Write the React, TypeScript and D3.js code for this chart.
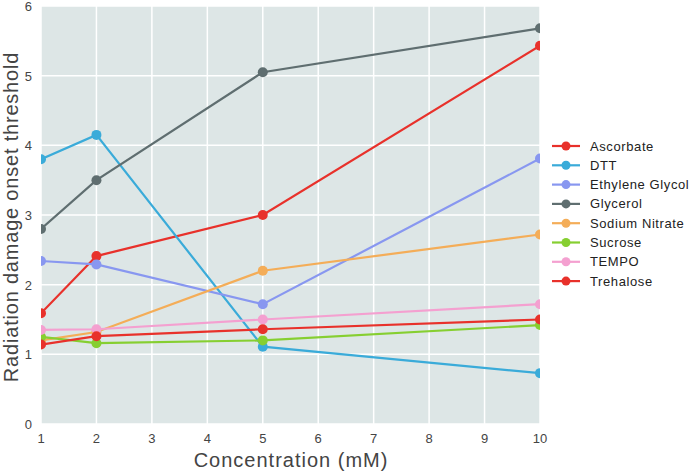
import React from "react";
import * as d3 from "d3";

const concentrations = [1, 2, 5, 10];
const seriesNames = ["Ascorbate", "DTT", "Ethylene Glycol", "Glycerol", "Sodium Nitrate", "Sucrose", "TEMPO", "Trehalose"];
const seriesColors = ["#e8312b", "#3aabd9", "#8897f0", "#5f6e70", "#f4ad58", "#86cf31", "#f4a0d0", "#e8312b"];
const ascorbate = [1.59, 2.41, 3.0, 5.43];
const dtt = [3.8, 4.15, 1.11, 0.73];
const ethyleneGlycol = [2.34, 2.29, 1.72, 3.81];
const glycerol = [2.8, 3.5, 5.05, 5.68];
const sodiumNitrate = [1.2, 1.32, 2.2, 2.72];
const sucrose = [1.25, 1.16, 1.2, 1.42];
const tempo = [1.35, 1.36, 1.5, 1.72];
const trehalose = [1.14, 1.26, 1.36, 1.5];
const seriesValues = [ascorbate, dtt, ethyleneGlycol, glycerol, sodiumNitrate, sucrose, tempo, trehalose];
const xTicks = [1, 2, 3, 4, 5, 6, 7, 8, 9, 10];
const yTicks = [0, 1, 2, 3, 4, 5, 6];

export default function App() {
  const W = 693, H = 473;
  const left = 41, right = 540, top = 6, bottom = 424;
  const x = d3.scaleLinear().domain([1, 10]).range([left, right]);
  const y = d3.scaleLinear().domain([0, 6]).range([bottom, top]);
  const line = d3.line<[number, number]>().x(d => x(d[0])).y(d => y(d[1]));
  const font = "'Liberation Sans', Arial, Helvetica, sans-serif";
  return (
    <svg width={W} height={H} style={{ position: "absolute", left: 0, top: 0 }} fontFamily={font}>
      <defs>
        <clipPath id="plotclip">
          <rect x={left} y={top} width={right - left} height={bottom - top} />
        </clipPath>
      </defs>
      <rect x={0} y={0} width={W} height={H} fill="#ffffff" />
      <rect x={left} y={top} width={right - left} height={bottom - top} fill="#dde6e6" />
      {xTicks.map(t => (
        <line key={"gx" + t} x1={x(t)} x2={x(t)} y1={top} y2={bottom} stroke="#ffffff" strokeWidth={1.5} />
      ))}
      {yTicks.map(t => (
        <line key={"gy" + t} x1={left} x2={right} y1={y(t)} y2={y(t)} stroke="#ffffff" strokeWidth={1.5} />
      ))}
      <g clipPath="url(#plotclip)">
        {seriesValues.map((vals, i) => {
          const pts = concentrations.map((c, j) => [c, vals[j]] as [number, number]);
          return (
            <g key={seriesNames[i]}>
              <path d={line(pts) || ""} fill="none" stroke={seriesColors[i]} strokeWidth={2.2} />
              {pts.map((p, j) => (
                <circle key={j} cx={x(p[0])} cy={y(p[1])} r={5} fill={seriesColors[i]} />
              ))}
            </g>
          );
        })}
      </g>
      {xTicks.map(t => (
        <text key={"tx" + t} x={x(t)} y={443} textAnchor="middle" fontSize={13} fill="#444">{t}</text>
      ))}
      {yTicks.map(t => (
        <text key={"ty" + t} x={32} y={y(t) + 5} textAnchor="end" fontSize={13} fill="#444">{t}</text>
      ))}
      <text x={291} y={467} textAnchor="middle" fontSize={20} fill="#444" letterSpacing={1}>Concentration (mM)</text>
      <text transform={`translate(18, ${(top + bottom) / 2 + 2}) rotate(-90)`} textAnchor="middle" fontSize={20} fill="#444" letterSpacing={0.8}>Radiation damage onset threshold</text>
      {seriesNames.map((name, i) => {
        const ly = 146 + i * 19.3;
        return (
          <g key={"lg" + name}>
            <line x1={552} x2={580} y1={ly} y2={ly} stroke={seriesColors[i]} strokeWidth={2.2} />
            <circle cx={566} cy={ly} r={4.5} fill={seriesColors[i]} />
            <text x={590} y={ly + 4.5} fontSize={13} fill="#222" letterSpacing={0.6}>{name}</text>
          </g>
        );
      })}
    </svg>
  );
}
